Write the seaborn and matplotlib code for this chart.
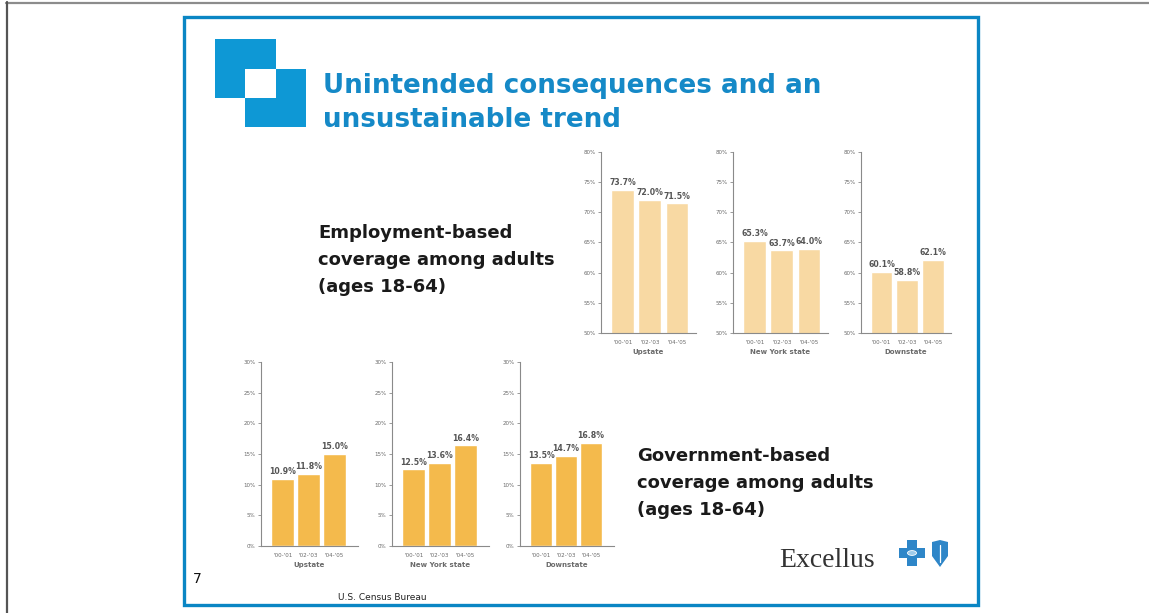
import numpy as np
import pandas as pd
import seaborn as sns
import matplotlib.pyplot as plt
from matplotlib.patches import Rectangle, Polygon, Circle
from matplotlib.lines import Line2D

years = ["'00-'01", "'02-'03", "'04-'05"]
regions = ["Upstate", "New York state", "Downstate"]
employment = {"Upstate": [73.7, 72.0, 71.5],
              "New York state": [65.3, 63.7, 64.0],
              "Downstate": [60.1, 58.8, 62.1]}
government = {"Upstate": [10.9, 11.8, 15.0],
              "New York state": [12.5, 13.6, 16.4],
              "Downstate": [13.5, 14.7, 16.8]}
emp_ticks = [50, 55, 60, 65, 70, 75, 80]
gov_ticks = [0, 5, 10, 15, 20, 25, 30]

W, H = 1149, 613
sns.set_style("white")
plt.rcParams['font.family'] = ['DejaVu Sans']

fig = plt.figure(figsize=(W / 100, H / 100), dpi=100)
fig.patch.set_facecolor("white")


def box(l, t, r, b):
    return [l / W, 1 - b / H, (r - l) / W, (b - t) / H]


def fx(x):
    return x / W


def fy(y):
    return 1 - y / H


def small_chart(ax, region, vals, ticks, color, width, xlim):
    df = pd.DataFrame({"period": years, "value": vals})
    sns.barplot(data=df, x="period", y="value", color=color, width=width,
                saturation=1, ax=ax)
    ax.set_xlim(*xlim)
    ax.set_ylim(ticks[0], ticks[-1])
    ax.set_yticks(ticks)
    ax.set_yticklabels([f"{t}%" for t in ticks])
    ax.bar_label(ax.containers[0], labels=[f"{v:.1f}%" for v in vals],
                 padding=2, fontsize=5.6, fontweight="bold", color="#555555")
    for s in ["top", "right"]:
        ax.spines[s].set_visible(False)
    for s in ["left", "bottom"]:
        ax.spines[s].set_color("#8a8a8a")
        ax.spines[s].set_linewidth(0.8)
    ax.tick_params(axis="y", length=2, width=0.6, color="#8a8a8a",
                   labelsize=4.0, labelcolor="#6a6a6a", pad=2, left=True)
    ax.tick_params(axis="x", length=0, labelsize=4.1, labelcolor="#6a6a6a",
                   pad=5)
    ax.set_xlabel(region, fontsize=5.0, fontweight="bold", color="#6a6a6a",
                  labelpad=3)
    ax.set_ylabel("")
    ax.set_facecolor("none")


# top charts: employment-based
top_x = [(601, 696), (733, 828), (861, 951)]
for (l, r), reg in zip(top_x, regions):
    ax = fig.add_axes(box(l, 152, r, 333))
    small_chart(ax, reg, employment[reg], emp_ticks, "#F8D9A3", 0.84,
                (-0.8, 2.7))

# bottom charts: government-based
bot_x = [(261, 358), (392, 489), (520, 614)]
for (l, r), reg in zip(bot_x, regions):
    ax = fig.add_axes(box(l, 362, r, 546))
    small_chart(ax, reg, government[reg], gov_ticks, "#F4BA4C", 0.9,
                (-0.85, 2.92))

# page frame
fig.add_artist(Line2D([fx(6), 1], [fy(2.5), fy(2.5)], color="#8c8c8c", lw=1.6))
fig.add_artist(Line2D([fx(6.5), fx(6.5)], [fy(2), 0], color="#555555", lw=1.6))
fig.add_artist(Rectangle((fx(183.5), fy(604.5)), fx(977.5) - fx(183.5),
                         fy(16.5) - fy(604.5), fill=False, ec="#0A86C4",
                         lw=2.4))

# logo squares
blue = "#0E98D5"
fig.add_artist(Rectangle((fx(215), fy(98)), fx(276) - fx(215), fy(39) - fy(98),
                         fc=blue, ec="none"))
fig.add_artist(Rectangle((fx(245), fy(127)), fx(306) - fx(245), fy(69) - fy(127),
                         fc=blue, ec="none"))
fig.add_artist(Rectangle((fx(245), fy(98)), fx(276) - fx(245), fy(69) - fy(98),
                         fc="white", ec="none"))

# title
fig.text(fx(323), fy(93), "Unintended consequences and an", fontsize=18.8,
         fontweight="bold", color="#1589C7", va="baseline")
fig.text(fx(323), fy(127), "unsustainable trend", fontsize=18.8,
         fontweight="bold", color="#1589C7", va="baseline")

# descriptive text
for i, line in enumerate(["Employment-based", "coverage among adults",
                          "(ages 18-64)"]):
    fig.text(fx(318), fy(238 + 27 * i), line, fontsize=13, fontweight="bold",
             color="#1a1a1a", va="baseline")
for i, line in enumerate(["Government-based", "coverage among adults",
                          "(ages 18-64)"]):
    fig.text(fx(637), fy(461 + 27 * i), line, fontsize=13, fontweight="bold",
             color="#1a1a1a", va="baseline")

fig.text(fx(193), fy(583), "7", fontsize=10, color="#111111", va="baseline")
fig.text(fx(338), fy(600), "U.S. Census Bureau", fontsize=6.5,
         color="#222222", va="baseline")

# Excellus logo
fig.text(fx(779), fy(567), "Excellus", fontsize=20, family="Liberation Serif",
         color="#333333", va="baseline")
cb = "#2E86C8"
cx, cy = 912, 553
fig.add_artist(Rectangle((fx(cx - 13), fy(cy + 5)), fx(26) - fx(0),
                         fy(0) - fy(10), fc=cb, ec="none"))
fig.add_artist(Rectangle((fx(cx - 5), fy(cy + 13)), fx(10) - fx(0),
                         fy(0) - fy(26), fc=cb, ec="none"))
fig.add_artist(Circle((fx(cx), fy(cy)), 4.5 / W, fc="#9fcbea", ec="white",
                      lw=0.6))
shield = [(932, 542), (940, 540), (948, 542), (948, 556), (940, 567),
          (932, 556)]
fig.add_artist(Polygon([(fx(a), fy(b)) for a, b in shield], closed=True,
                       fc=cb, ec="none"))
fig.add_artist(Line2D([fx(940), fx(940)], [fy(545), fy(562)], color="white",
                      lw=0.9))

fig.savefig("out.png", dpi=100, facecolor="white")
